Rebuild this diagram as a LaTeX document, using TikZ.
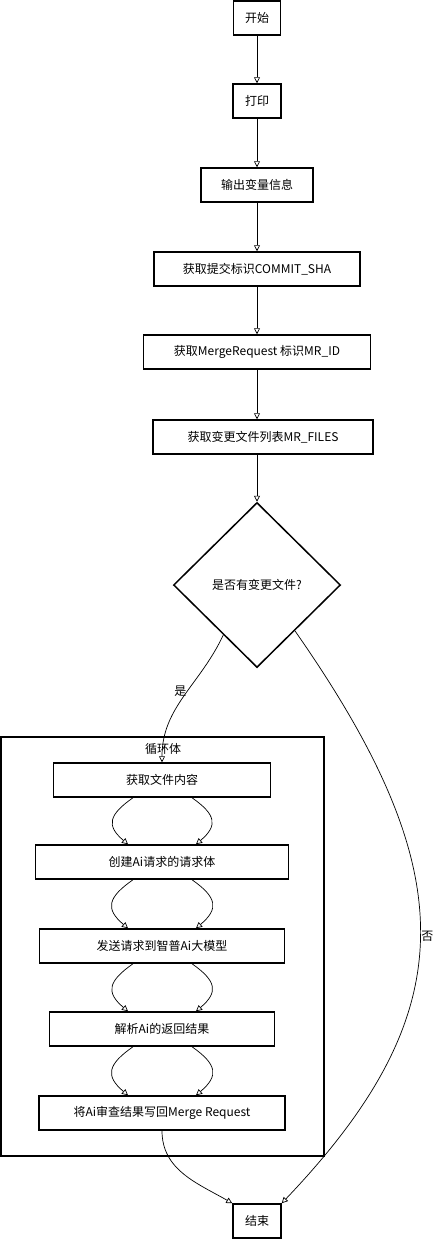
\documentclass[tikz,border=0pt]{standalone}
\usepackage{fontspec}
\setmainfont{Noto Sans CJK SC}
\usetikzlibrary{arrows.meta,shapes.geometric,calc}
\begin{document}
\begin{tikzpicture}[x=1pt,y=-1pt,font=\fontsize{12}{14}\selectfont,
  box/.style={draw,line width=1.5pt,minimum height=34,inner sep=0pt},
  flow/.style={line width=0.7pt,-{Triangle[open,length=6pt,width=6pt]}}]
\useasboundingbox (0,0) rectangle (433,1239);
\node[box,minimum width=47] (start) at (257,18) {开始};
\node[box,minimum width=48] (print) at (257,101) {打印};
\node[box,minimum width=112] (vars) at (257,185) {输出变量信息};
\node[box,minimum width=206] (sha) at (257,269) {获取提交标识COMMIT\_SHA};
\node[box,minimum width=227] (mrid) at (257,352) {获取MergeRequest 标识MR\_ID};
\node[box,minimum width=220] (files) at (263,437) {获取变更文件列表MR\_FILES};
\node[draw,diamond,line width=1.5pt,minimum width=167,minimum height=165,inner sep=0pt] (cond) at (257,585) {是否有变更文件?};
\node[draw,line width=1.5pt,minimum width=323,minimum height=419,inner sep=0pt] (loop) at (162.5,946.5) {};
\node (looplab) at (163,749) {循环体};
\node[box,minimum width=217] (read) at (162,780) {获取文件内容};
\node[box,minimum width=253] (build) at (162,862) {创建Ai请求的请求体};
\node[box,minimum width=245] (send) at (162,946) {发送请求到智普Ai大模型};
\node[box,minimum width=225] (parse) at (162,1029) {解析Ai的返回结果};
\node[box,minimum width=246] (write) at (162,1113) {将Ai审查结果写回Merge Request};
\node[box,minimum width=48] (stop) at (257,1221) {结束};
\foreach \a/\b in {start/print,print/vars,vars/sha,sha/mrid}
  \draw[flow] (\a) -- (\b);
\draw[flow] (mrid.south) -- (mrid.south |- files.north);
\draw[flow] (cond.north |- files.south) -- (cond.north);
\draw[flow] ($(cond.west)!0.6!(cond.south)$) to[out=-115,in=90]
  node[pos=.45,left,inner sep=1pt] (yes) {是} (read.north);
\draw[flow] ($(cond.east)!0.55!(cond.south)$) .. controls (464,873) and (464,1012) ..
  node[right,inner sep=1pt] (no) {否} (stop.north east);
\foreach \a/\b in {read/build,build/send,send/parse,parse/write} {
  \draw[flow] ($(\a.south)+(-29,0)$) to[out=-145,in=140,looseness=1.6] ($(\b.north)+(-34,0)$);
  \draw[flow] ($(\a.south)+(30,0)$) to[out=-35,in=40,looseness=1.6] ($(\b.north)+(34,0)$);
}
\draw[flow] (write.south) to[out=-90,in=150] (stop.north west);
\end{tikzpicture}
\end{document}
